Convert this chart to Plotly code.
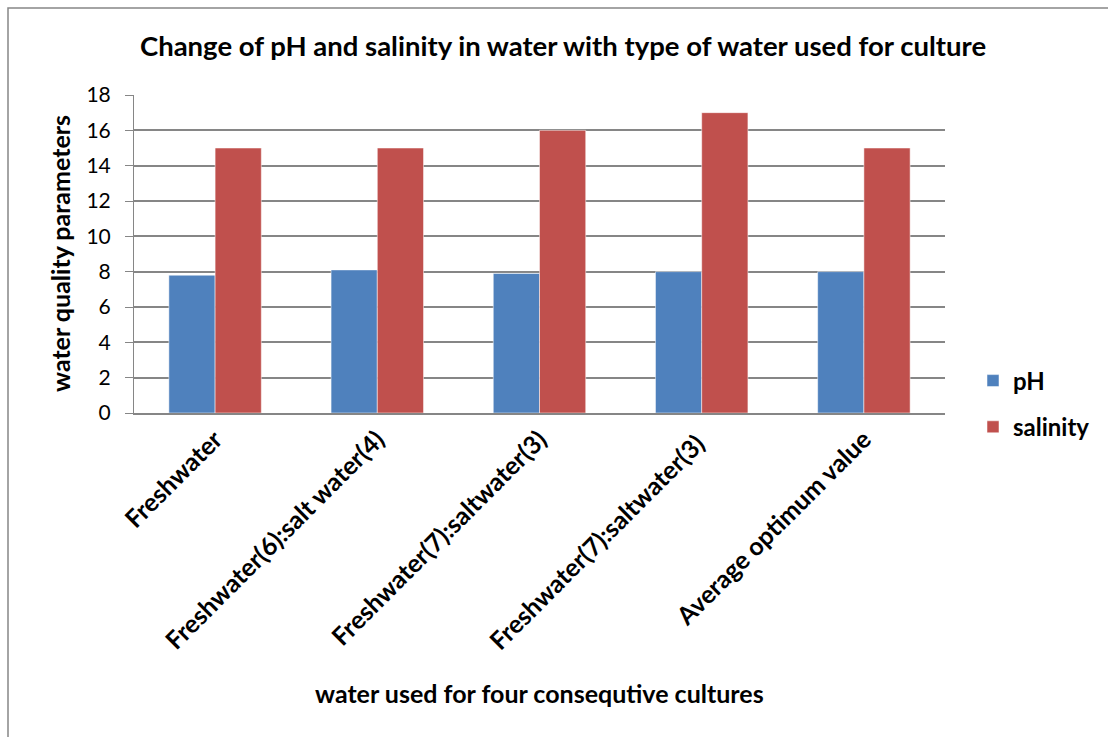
import plotly.graph_objects as go

categories = [
    "Freshwater",
    "Freshwater(6):salt water(4)",
    "Freshwater(7):saltwater(3)",
    "Freshwater(7):saltwater(3) ",
    "Average optimum value",
]
ph_values = [7.8, 8.1, 7.9, 8.0, 8.0]
salinity_values = [15, 15, 16, 17, 15]
y_ticks = [0, 2, 4, 6, 8, 10, 12, 14, 16, 18]

W, H = 1108, 737
L, R, T, B = 134, 945, 95, 413
FONT = "Lato"

fig = go.Figure()
fig.add_trace(go.Bar(
    x=categories, y=ph_values, name="<b>pH</b>",
    marker=dict(color="#4F81BD", line=dict(color="rgba(255,255,255,0.5)", width=1)),
    legendgroup="a",
))
fig.add_trace(go.Bar(
    x=categories, y=salinity_values, name="<b>salinity</b>",
    marker=dict(color="#C0504D", line=dict(color="rgba(255,255,255,0.5)", width=1)),
    legendgroup="b",
))


def px_x(px):
    return (px - L) / (R - L)


def px_y(py):
    return (B - py) / (B - T)


fig.update_layout(
    width=W, height=H,
    margin=dict(l=L, r=W - R, t=T, b=H - B, autoexpand=False),
    paper_bgcolor="white", plot_bgcolor="white",
    barmode="group", bargap=0.43, bargroupgap=0,
    font=dict(family=FONT, color="black"),
    title=dict(
        text="<b>Change of pH and salinity in water with type of water used for culture</b>",
        x=563 / W, xanchor="center", xref="container",
        y=1 - 46 / H, yanchor="middle", yref="container",
        font=dict(size=27.5, family=FONT),
    ),
    legend=dict(
        x=px_x(973), xanchor="left", y=px_y(404), yanchor="middle",
        font=dict(size=24, family=FONT), tracegroupgap=12,
        itemwidth=30, bgcolor="rgba(0,0,0,0)",
    ),
    xaxis=dict(
        tickangle=-45, showline=True, linecolor="#868686", linewidth=2,
        tickfont=dict(size=25, family=FONT), ticks="", showgrid=False,
        tickvals=categories, ticktext=[f"<b>{c}</b>" for c in categories],
    ),
    yaxis=dict(
        range=[0, 18], tickvals=y_ticks, showline=True, linecolor="#868686",
        linewidth=1, showgrid=True, gridcolor="#868686", gridwidth=1.5,
        ticks="outside", ticklen=8, tickcolor="#868686",
        tickfont=dict(size=21, family=FONT), zeroline=False,
        ticklabelstandoff=10,
    ),
    showlegend=True,
)

fig.add_annotation(
    text="<b>water used for four consequtive cultures</b>",
    xref="paper", yref="paper", x=px_x(539), y=px_y(693),
    xanchor="center", yanchor="middle", showarrow=False,
    font=dict(size=25, family=FONT),
)
fig.add_annotation(
    text="<b>water quality parameters</b>",
    xref="paper", yref="paper", x=px_x(60), y=px_y(254),
    xanchor="center", yanchor="middle", showarrow=False, textangle=-90,
    font=dict(size=25, family=FONT),
)

# outer chart frame
fig.add_shape(
    type="rect", xref="paper", yref="paper",
    x0=px_x(8), x1=px_x(W + 20), y0=px_y(H + 20), y1=px_y(8),
    line=dict(color="#868686", width=1.5), fillcolor="rgba(0,0,0,0)", layer="below",
)

fig.write_html("out.html")
